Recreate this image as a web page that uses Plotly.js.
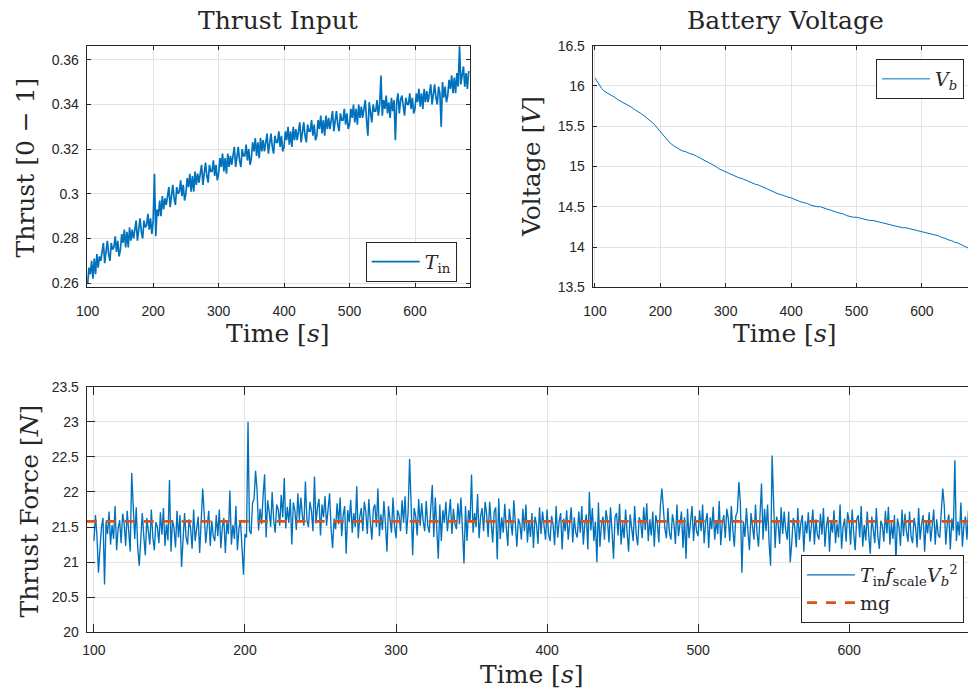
<!DOCTYPE html>
<html><head><meta charset="utf-8">
<script src="https://cdn.plot.ly/plotly-3.0.1.min.js"></script>
<style>
html,body{margin:0;padding:0;overflow:hidden;background:#fff;width:968px;height:691px}
#chart{width:978px;height:691px}
</style>
</head><body><div id="chart"></div>
<script>
// ---- DATA ----
// Thrust input, sampled every 2 s starting at t = 100 s
const thrustStart = 100, thrustStep = 2;
const thrustInput = [
0.260,0.267,0.264,0.270,0.262, 0.271,0.264,0.273,0.267,0.272,
0.270,0.274,0.278,0.269,0.275, 0.279,0.273,0.270,0.278,0.275,
0.276,0.281,0.274,0.279,0.272, 0.275,0.282,0.278,0.284,0.276,
0.283,0.276,0.285,0.279,0.284, 0.280,0.284,0.288,0.279,0.285,
0.289,0.283,0.280,0.288,0.285, 0.286,0.291,0.284,0.289,0.282,
0.288,0.309,0.281,0.293,0.290, 0.297,0.290,0.299,0.293,0.298,
0.295,0.299,0.303,0.294,0.300, 0.304,0.298,0.295,0.303,0.300,
0.301,0.306,0.299,0.304,0.297, 0.300,0.307,0.303,0.309,0.301,
0.308,0.301,0.310,0.304,0.309, 0.305,0.309,0.313,0.304,0.310,
0.314,0.308,0.305,0.313,0.310, 0.310,0.315,0.308,0.313,0.306,
0.309,0.316,0.312,0.318,0.310, 0.316,0.309,0.318,0.312,0.317,
0.313,0.317,0.321,0.312,0.318, 0.321,0.315,0.312,0.320,0.317,
0.317,0.322,0.315,0.320,0.313, 0.316,0.323,0.319,0.325,0.317,
0.323,0.316,0.325,0.319,0.324, 0.319,0.323,0.327,0.318,0.324,
0.327,0.321,0.318,0.326,0.323, 0.323,0.328,0.321,0.326,0.319,
0.321,0.328,0.324,0.330,0.322, 0.328,0.321,0.330,0.324,0.329,
0.324,0.328,0.332,0.323,0.329, 0.332,0.326,0.323,0.331,0.328,
0.328,0.333,0.326,0.331,0.324, 0.326,0.333,0.329,0.335,0.327,
0.333,0.326,0.335,0.329,0.334, 0.329,0.333,0.337,0.328,0.334,
0.337,0.331,0.328,0.336,0.333, 0.333,0.338,0.331,0.336,0.329,
0.331,0.338,0.334,0.340,0.332, 0.338,0.331,0.340,0.334,0.339,
0.334,0.338,0.342,0.333,0.326, 0.341,0.335,0.332,0.340,0.337,
0.337,0.342,0.335,0.340,0.353, 0.335,0.342,0.338,0.344,0.336,
0.341,0.334,0.343,0.337,0.342, 0.324,0.341,0.345,0.336,0.342,
0.344,0.338,0.335,0.343,0.340, 0.340,0.345,0.338,0.343,0.336,
0.338,0.345,0.341,0.347,0.339, 0.345,0.338,0.347,0.341,0.346,
0.341,0.345,0.349,0.340,0.346, 0.349,0.343,0.340,0.348,0.345,
0.330,0.350,0.343,0.348,0.341, 0.344,0.351,0.347,0.353,0.345,
0.352,0.345,0.354,0.348,0.366, 0.349,0.353,0.357,0.348,0.354,
0.347,0.355
];

// Battery voltage, sampled every 5 s starting at t = 100 s
const voltageStart = 100, voltageStep = 5;
const batteryVoltage = [
16.10,16.03,15.97,15.93,15.91,15.89,15.86,15.83,15.81,15.78,
15.76,15.74,15.71,15.69,15.66,15.63,15.60,15.57,15.53,15.48,
15.43,15.38,15.33,15.29,15.26,15.23,15.21,15.19,15.18,15.16,
15.15,15.13,15.11,15.08,15.06,15.04,15.02,15.00,14.97,14.95,
14.93,14.92,14.90,14.87,14.86,14.85,14.83,14.81,14.80,14.78,
14.77,14.75,14.73,14.71,14.70,14.68,14.66,14.65,14.63,14.62,
14.61,14.59,14.58,14.56,14.55,14.54,14.52,14.51,14.50,14.50,
14.48,14.47,14.46,14.44,14.43,14.42,14.41,14.39,14.38,14.37,
14.37,14.36,14.35,14.34,14.33,14.33,14.32,14.31,14.30,14.29,
14.28,14.27,14.26,14.25,14.24,14.24,14.23,14.22,14.21,14.20,
14.19,14.18,14.17,14.16,14.15,14.14,14.12,14.11,14.09,14.08,
14.06,14.05,14.03,14.01,13.99,13.97,13.95
];

// Thrust force, sampled every 1 s starting at t = 100 s
const forceStart = 100, forceStep = 1;
const thrustForce = [
21.30,21.67,21.37,20.85,21.20,21.50,21.63,20.68,21.57,21.40,21.72,21.25,21.53,21.33,21.80,21.17,21.48,21.60,21.27,21.69,
21.55,21.23,21.73,21.40,21.15,22.27,21.65,21.33,21.78,21.20,20.95,21.29,21.70,21.37,21.10,21.63,21.47,21.25,21.75,21.35,
21.17,21.57,21.50,21.27,21.71,21.39,21.77,21.23,21.54,21.31,22.17,21.15,21.60,21.49,21.21,21.73,21.35,21.67,20.93,21.27,
21.70,21.35,21.25,21.61,21.48,21.19,21.75,21.30,21.53,21.65,21.13,21.57,22.05,21.69,21.27,21.50,21.73,21.23,21.59,21.37,
21.30,21.67,21.37,21.75,21.20,21.50,21.63,21.13,21.57,21.40,22.02,21.25,21.53,21.33,21.80,21.17,21.48,21.60,21.27,20.82,
21.40,21.35,23.00,21.45,21.40,21.84,21.90,22.30,22.03,21.45,21.76,21.54,21.95,22.25,21.35,21.88,21.72,21.50,22.00,21.60,
21.42,21.82,21.75,21.52,21.96,21.64,22.20,21.48,21.79,21.56,21.90,21.25,21.85,21.74,21.46,21.98,21.60,21.92,21.66,21.52,
22.15,21.60,21.50,21.86,21.73,21.44,22.22,21.55,21.78,21.90,21.38,21.82,21.64,21.94,21.52,21.75,21.98,21.48,21.20,21.62,
21.47,21.84,21.54,21.92,21.37,21.67,21.80,21.12,21.74,21.57,21.89,21.42,21.70,21.50,22.08,21.34,21.65,21.77,21.44,21.86,
21.72,21.40,21.90,21.57,21.32,21.76,21.82,21.50,22.05,21.37,21.68,21.46,21.87,21.54,21.15,21.80,21.64,21.42,21.92,21.52,
21.34,21.74,21.67,21.44,21.88,21.56,21.94,21.40,21.71,22.47,21.82,21.10,21.77,21.66,21.38,21.90,21.52,21.84,21.58,21.44,
21.87,21.52,21.42,21.78,22.10,21.36,21.92,21.47,21.05,21.82,21.30,21.74,21.56,21.86,21.44,21.67,21.90,21.40,21.76,21.54,
21.47,21.84,21.54,21.92,21.37,20.98,21.80,21.30,21.74,21.57,22.25,21.42,21.70,21.50,21.97,21.34,21.65,21.77,21.44,21.86,
21.68,21.36,21.86,21.53,21.28,21.72,21.78,21.04,21.91,21.33,21.64,21.42,21.83,21.50,21.23,21.76,21.60,21.38,21.88,21.48,
21.22,21.62,21.55,21.32,21.76,21.44,21.82,21.28,21.59,21.36,21.70,21.20,21.65,21.54,21.26,21.78,21.40,21.72,21.46,21.32,
21.75,21.40,21.30,21.66,21.53,21.24,21.80,21.35,21.58,21.70,21.18,21.62,21.44,21.74,21.32,21.55,21.78,21.28,21.64,21.42,
21.35,21.72,21.42,21.80,21.25,21.55,21.68,21.18,22.00,21.45,21.77,21.30,21.58,21.00,21.85,21.22,21.53,21.65,21.32,21.74,
21.60,21.28,21.78,21.45,21.05,21.64,21.70,21.38,21.83,21.25,21.56,21.34,21.75,21.42,21.15,21.68,21.52,21.30,21.80,21.40,
21.24,21.64,21.57,21.34,21.78,21.46,21.84,21.30,21.61,21.38,21.72,21.22,21.67,21.56,21.28,21.80,22.05,21.74,21.48,21.34,
21.77,21.42,21.32,21.68,21.55,21.26,21.82,21.37,21.60,21.72,21.20,21.64,21.05,21.76,21.34,21.57,21.80,21.30,21.66,21.44,
21.37,21.74,21.44,21.82,21.27,21.57,21.70,21.20,21.64,21.47,21.79,21.32,21.60,21.40,21.87,21.24,21.55,21.67,21.34,21.76,
21.62,21.30,21.80,21.47,21.22,21.66,21.72,22.14,21.85,20.85,21.58,21.36,21.77,21.44,21.17,21.70,21.54,21.32,21.82,21.42,
21.22,21.62,22.12,21.32,21.76,21.44,21.82,21.28,20.95,22.52,21.70,21.20,21.65,21.54,21.26,21.78,21.40,21.72,21.46,21.32,
21.72,21.00,21.27,21.63,21.50,21.21,21.77,21.32,21.55,21.67,21.15,21.59,21.41,21.71,21.29,21.52,21.75,21.25,21.61,21.39,
21.32,21.69,21.39,21.77,21.22,21.52,21.65,21.15,21.59,21.42,21.74,21.27,21.55,21.35,21.82,21.19,21.50,21.62,21.29,21.71,
21.57,21.25,21.75,21.42,21.17,21.61,21.67,21.35,21.80,21.22,21.53,21.31,21.72,21.39,21.12,21.65,21.49,21.27,21.77,21.37,
21.19,21.59,21.52,21.29,21.73,21.41,21.79,21.25,21.56,21.33,21.67,21.02,21.62,21.51,21.23,21.75,21.37,21.69,21.43,21.29,
21.72,21.37,21.27,21.63,21.50,21.21,21.77,21.32,21.55,21.67,21.15,21.59,21.41,21.71,21.29,21.52,21.75,21.25,21.61,21.39,
21.35,21.72,22.05,21.80,21.25,21.55,21.68,21.18,21.62,21.45,22.45,21.30,21.58,21.38,21.85,21.22,21.53,21.65,21.32,21.74,
21.40,21.68,21.30
];

// mg reference line
const mgTime = [95.2, 684];
const mgValue = [21.58, 21.58];

// tick labels
const timeTicks = [100, 200, 300, 400, 500, 600];
const thrustTicks = [0.26, 0.28, 0.30, 0.32, 0.34, 0.36];
const thrustTickText = ['0.26', '0.28', '0.3', '0.32', '0.34', '0.36'];
const voltTicks = [13.5, 14, 14.5, 15, 15.5, 16, 16.5];
const voltTickText = ['13.5', '14', '14.5', '15', '15.5', '16', '16.5'];
const forceTicks = [20, 20.5, 21, 21.5, 22, 22.5, 23, 23.5];
const forceTickText = ['20', '20.5', '21', '21.5', '22', '22.5', '23', '23.5'];

// ---- LAYOUT ----
const W = 978, H = 691;
const px = v => v / W;
const py = v => 1 - v / H;
const blue = '#0072BD', orange = '#D95319', ink = '#262626';
const serif = 'DejaVu Serif, Liberation Serif, serif';
const tickFont = {family: 'Liberation Sans, Arial, sans-serif', size: 14, color: ink};

function ax(extra) {
  return Object.assign({
    showline: true, linecolor: ink, linewidth: 1, mirror: 'allticks',
    ticks: 'inside', tickcolor: ink, tickwidth: 1,
    showgrid: true, gridcolor: '#e3e3e3', gridwidth: 1, zeroline: false,
    tickfont: tickFont, fixedrange: true
  }, extra);
}

const traces = [
  {x0: thrustStart, dx: thrustStep, y: thrustInput, type: 'scatter', mode: 'lines',
   line: {color: blue, width: 1.7}, name: '<i>T</i><sub>in</sub>', xaxis: 'x', yaxis: 'y', legend: 'legend'},
  {x0: voltageStart, dx: voltageStep, y: batteryVoltage, type: 'scatter', mode: 'lines',
   line: {color: blue, width: 1}, name: '<i>V</i><sub><i>b</i></sub>', xaxis: 'x2', yaxis: 'y2', legend: 'legend2'},
  {x0: forceStart, dx: forceStep, y: thrustForce, type: 'scatter', mode: 'lines',
   line: {color: blue, width: 1.35}, name: '<i>T</i><sub>in</sub><i>f</i><sub>scale</sub><i>V</i><sub><i>b</i></sub><sup>2</sup>',
   xaxis: 'x3', yaxis: 'y3', legend: 'legend3'},
  {x: mgTime, y: mgValue, type: 'scatter', mode: 'lines',
   line: {color: orange, width: 2.8, dash: '10px,9px'}, name: 'mg', xaxis: 'x3', yaxis: 'y3', legend: 'legend3'}
];

const legendBase = {bgcolor: '#ffffff', bordercolor: ink, borderwidth: 1, itemwidth: 48,
  font: {family: serif, size: 19, color: ink}, xanchor: 'right', yanchor: 'top', tracegroupgap: 0};

const ann = (text, x, y, size, angle) => ({
  text: text, xref: 'paper', yref: 'paper', x: px(x), y: py(y),
  xanchor: 'center', yanchor: 'middle', showarrow: false, textangle: angle || 0,
  font: {family: serif, size: size, color: ink}
});

const layout = {
  width: W, height: H, margin: {l: 0, r: 0, t: 0, b: 0},
  paper_bgcolor: '#ffffff', plot_bgcolor: '#ffffff', showlegend: true,
  xaxis: ax({domain: [px(86.7), px(470)], range: [98.5, 684], tickvals: timeTicks, ticklen: 4, anchor: 'y', ticklabelstandoff: 11}),
  yaxis: ax({domain: [py(287), py(45.7)], range: [0.2583, 0.3663], tickvals: thrustTicks, ticktext: thrustTickText, ticklen: 4, anchor: 'x', ticklabelstandoff: 4}),
  xaxis2: ax({domain: [px(592.7), px(976)], range: [96.5, 682.7], tickvals: timeTicks, ticklen: 4, anchor: 'y2', ticklabelstandoff: 11}),
  yaxis2: ax({domain: [py(287.3), py(45.7)], range: [13.5, 16.5], tickvals: voltTicks, ticktext: voltTickText, ticklen: 4, anchor: 'x2', ticklabelstandoff: 4}),
  xaxis3: ax({domain: [px(86.7), px(976)], range: [95.2, 684], tickvals: timeTicks, ticklen: 8, anchor: 'y3', ticklabelstandoff: 5}),
  yaxis3: ax({domain: [py(632.3), py(386.7)], range: [20, 23.5], tickvals: forceTicks, ticktext: forceTickText, ticklen: 8, anchor: 'x3', ticklabelstandoff: 4}),
  legend: Object.assign({}, legendBase, {x: px(456.7), y: py(241.7)}),
  legend2: Object.assign({}, legendBase, {x: px(964), y: py(59)}),
  legend3: Object.assign({}, legendBase, {x: px(964), y: py(555)}),
  annotations: [
    ann('Thrust Input', 278, 20, 25),
    ann('Battery Voltage', 785, 20, 25),
    ann('Time [<i>s</i>]', 277.5, 334, 25),
    ann('Time [<i>s</i>]', 784, 334, 25),
    ann('Time [<i>s</i>]', 531, 674, 25),
    ann('Thrust [0 \u2212 1]', 25, 167.5, 25, -90),
    ann('Voltage [<i>V</i>]', 532, 167, 25, -90),
    ann('Thrust Force [<i>N</i>]', 29, 511.5, 25, -90)
  ]
};

Plotly.newPlot('chart', traces, layout, {staticPlot: true, displayModeBar: false});
</script>
</body></html>
